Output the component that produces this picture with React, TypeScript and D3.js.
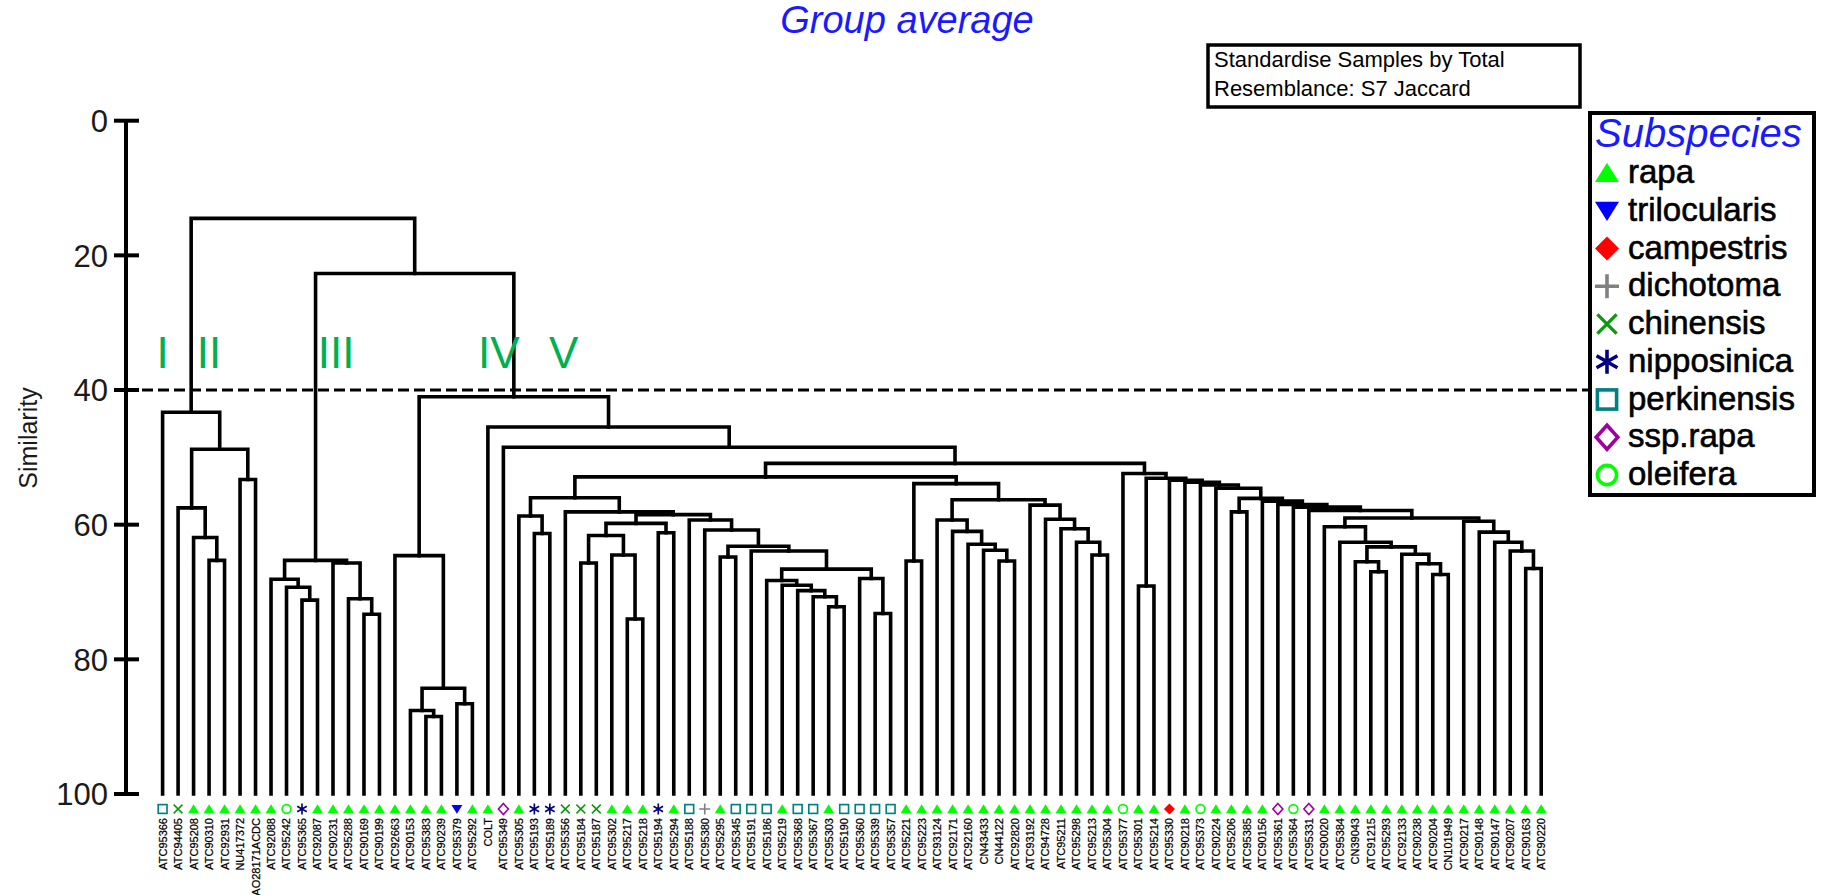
import * as d3 from 'd3'

// leaves in dendrogram order, left to right
const leafLabels = [
  'ATC95366', 'ATC94405', 'ATC95208', 'ATC90310', 'ATC92931', 'NU417372', 'AO28171ACDC', 'ATC92088', 'ATC95242', 'ATC95365',
  'ATC92087', 'ATC90231', 'ATC95288', 'ATC90169', 'ATC90199', 'ATC92663', 'ATC90153', 'ATC95383', 'ATC90239', 'ATC95379',
  'ATC95292', 'COLT', 'ATC95349', 'ATC95305', 'ATC95193', 'ATC95189', 'ATC95356', 'ATC95184', 'ATC95187', 'ATC95302',
  'ATC95217', 'ATC95218', 'ATC95194', 'ATC95294', 'ATC95188', 'ATC95380', 'ATC95295', 'ATC95345', 'ATC95191', 'ATC95186',
  'ATC95219', 'ATC95368', 'ATC95367', 'ATC95303', 'ATC95190', 'ATC95360', 'ATC95339', 'ATC95357', 'ATC95221', 'ATC95223',
  'ATC93124', 'ATC92171', 'ATC92160', 'CN43433', 'CN44122', 'ATC92820', 'ATC93192', 'ATC94728', 'ATC95211', 'ATC95298',
  'ATC95213', 'ATC95304', 'ATC95377', 'ATC95301', 'ATC95214', 'ATC95330', 'ATC90218', 'ATC95373', 'ATC90224', 'ATC95206',
  'ATC95385', 'ATC90156', 'ATC95361', 'ATC95364', 'ATC95331', 'ATC90020', 'ATC95384', 'CN39043', 'ATC91215', 'ATC95293',
  'ATC92133', 'ATC90238', 'ATC90204', 'CN101949', 'ATC90217', 'ATC90148', 'ATC90147', 'ATC90207', 'ATC90163', 'ATC90220',
]

const leafSubspecies = [
  'perkinensis', 'chinensis', 'rapa', 'rapa', 'rapa', 'rapa', 'rapa', 'rapa', 'oleifera', 'nipposinica',
  'rapa', 'rapa', 'rapa', 'rapa', 'rapa', 'rapa', 'rapa', 'rapa', 'rapa', 'trilocularis',
  'rapa', 'rapa', 'ssp.rapa', 'rapa', 'nipposinica', 'nipposinica', 'chinensis', 'chinensis', 'chinensis', 'rapa',
  'rapa', 'rapa', 'nipposinica', 'rapa', 'perkinensis', 'dichotoma', 'rapa', 'perkinensis', 'perkinensis', 'perkinensis',
  'rapa', 'perkinensis', 'perkinensis', 'rapa', 'perkinensis', 'perkinensis', 'perkinensis', 'perkinensis', 'rapa', 'rapa',
  'rapa', 'rapa', 'rapa', 'rapa', 'rapa', 'rapa', 'rapa', 'rapa', 'rapa', 'rapa',
  'rapa', 'rapa', 'oleifera', 'rapa', 'rapa', 'campestris', 'rapa', 'oleifera', 'rapa', 'rapa',
  'rapa', 'rapa', 'ssp.rapa', 'oleifera', 'ssp.rapa', 'rapa', 'rapa', 'rapa', 'rapa', 'rapa',
  'rapa', 'rapa', 'rapa', 'rapa', 'rapa', 'rapa', 'rapa', 'rapa', 'rapa', 'rapa',
]

const subspeciesNames = ['rapa', 'trilocularis', 'campestris', 'dichotoma', 'chinensis', 'nipposinica', 'perkinensis', 'ssp.rapa', 'oleifera']

const similarityTicks = [0, 20, 40, 60, 80, 100]
const cutSimilarity = 40
const clusterNames = ['I', 'II', 'III', 'IV', 'V']
const infoLines = ['Standardise Samples by Total', 'Resemblance: S7 Jaccard']

// merges: [similarity, left, right]; numbers are leaf indices
type Merge = number | [number, Merge, Merge]

const clusterI_II: Merge = [43.3, 0, [48.8, [57.5, 1, [61.9, 2, [65.3, 3, 4]]], [53.3, 5, 6]]]
const clusterIII: Merge = [65.3, [68.1, 7, [69.3, 8, [71.2, 9, 10]]], [65.7, 11, [71.0, 12, [73.3, 13, 14]]]]
const clusterIV: Merge = [64.6, 15, [84.3, [87.6, 16, [88.5, 17, 18]], [86.6, 19, 20]]]

const groupG: Merge = [59.8, [61.6, [65.7, 27, 28], [64.5, 29, [74.0, 30, 31]]], [61.2, 32, 33]]
const groupH: Merge = [59.3, 34, [60.8, 35, [63.2, [64.8, 36, 37],
  [63.9, 38, [66.6, [68.3, 39, [69.0, 40, [69.8, 41, [70.7, 42, [72.2, 43, 44]]]]], [68.0, 45, [73.2, 46, 47]]]]]]]
const groupC: Merge = [56.0, [58.7, 23, [61.3, 24, 25]], [58.1, 26, [58.5, groupG, groupH]]]
const groupJ: Merge = [56.3, [59.3, 50, [61.0, 51, [62.9, 52, [63.8, 53, [65.4, 54, 55]]]]],
  [57.1, 56, [59.2, 57, [60.6, 58, [62.6, 59, [64.5, 60, 61]]]]]]
const groupD: Merge = [53.9, [65.4, 48, 49], groupJ]
const groupK: Merge = [60.3, 75, [62.6, 76, [63.3, [65.5, 77, [67.0, 78, 79]], [64.4, 80, [65.8, 81, [67.4, 82, 83]]]]]]
const groupL: Merge = [59.5, 84, [61.1, 85, [62.6, 86, [63.9, 87, [66.5, 88, 89]]]]]
const groupB: Merge = [52.4, 62, [53.1, [69.1, 63, 64], [53.4, 65, [53.7, 66, [54.1, 67, [54.6, 68,
  [56.1, [58.1, 69, 70], [56.5, 71, [57.0, 72, [57.4, 73, [57.9, 74, [59.0, groupK, groupL]]]]]]]]]]]]
const clusterV: Merge = [45.5, 21, [48.5, 22, [50.9, [52.9, groupC, groupD], groupB]]]

const mergeTree: Merge = [14.5, clusterI_II, [22.7, clusterIII, [41.0, clusterIV, clusterV]]]

const W = 1821
const H = 895
const font = 'Liberation Sans, Arial, sans-serif'

const symbolStyle: Record<string, { color: string }> = {
  rapa: { color: '#00ff00' },
  trilocularis: { color: '#0000ff' },
  campestris: { color: '#ff0000' },
  dichotoma: { color: '#808080' },
  chinensis: { color: '#0a9a0a' },
  nipposinica: { color: '#000080' },
  perkinensis: { color: '#008080' },
  'ssp.rapa': { color: '#a000a0' },
  oleifera: { color: '#00ff00' },
}

let Marker = ({ kind, cx, cy, s }: { kind: string, cx: number, cy: number, s: number }) => {
  let c = symbolStyle[kind].color
  let h = s / 2
  let sw = Math.max(1.4, s * 0.15)
  let t = `translate(${cx},${cy})`
  if (kind === 'rapa') return <path transform={t} d={`M0,${-h * 0.85}L${h},${h * 0.75}L${-h},${h * 0.75}Z`} fill={c} />
  if (kind === 'trilocularis') return <path transform={t} d={`M0,${h * 0.85}L${h},${-h * 0.75}L${-h},${-h * 0.75}Z`} fill={c} />
  if (kind === 'campestris') return <path transform={t} d={`M0,${-h}L${h},0L0,${h}L${-h},0Z`} fill={c} />
  if (kind === 'dichotoma') return <path transform={t} d={`M${-h},0H${h}M0,${-h}V${h}`} stroke={c} strokeWidth={sw} />
  if (kind === 'chinensis') return <path transform={t} d={`M${-h * 0.8},${-h * 0.8}L${h * 0.8},${h * 0.8}M${h * 0.8},${-h * 0.8}L${-h * 0.8},${h * 0.8}`} stroke={c} strokeWidth={sw * 0.9} />
  if (kind === 'nipposinica') {
    let a = h * 0.87
    return <path transform={t} d={`M0,${-h}V${h}M${-a},${-h / 2}L${a},${h / 2}M${a},${-h / 2}L${-a},${h / 2}`} stroke={c} strokeWidth={sw} />
  }
  if (kind === 'perkinensis') return <rect transform={t} x={-h * 0.8} y={-h * 0.8} width={h * 1.6} height={h * 1.6} fill='none' stroke={c} strokeWidth={sw} />
  if (kind === 'ssp.rapa') return <path transform={t} d={`M0,${-h}L${h * 0.9},0L0,${h}L${-h * 0.9},0Z`} fill='none' stroke={c} strokeWidth={sw} />
  return <circle cx={cx} cy={cy} r={h * 0.8} fill='none' stroke={c} strokeWidth={sw} />
}

let App = () => {
  let xScale = d3.scaleLinear().domain([0, leafLabels.length - 1]).range([162.6, 1541.2])
  let yScale = d3.scaleLinear().domain([0, 100]).range([120.7, 794])

  let root = d3.hierarchy<Merge>(mergeTree, d => (Array.isArray(d) ? [d[1], d[2]] : undefined))
  let pos = new Map<d3.HierarchyNode<Merge>, [number, number]>()
  root.eachAfter(n => {
    if (!n.children) {
      pos.set(n, [xScale(n.data as number), yScale(100)])
    } else {
      let mx = d3.mean(n.children, c => pos.get(c)![0])!
      pos.set(n, [mx, yScale((n.data as [number, Merge, Merge])[0])])
    }
  })

  let links = root.descendants().filter(n => n.children).map(n => {
    let [a, b] = n.children!
    let [ax, ay] = pos.get(a)!
    let [bx, by] = pos.get(b)!
    let ny = pos.get(n)![1]
    return `M${ax},${ay}V${ny}H${bx}V${by}`
  })

  let axisX = 126
  // roman cluster labels, anchored over leaf positions
  let clusterAnchor = [0, 3, 11.2, 21.7, 25.9]
  let legendTop = 113
  let legendRow = 37.75

  return (
    <svg width={W} height={H} style={{ position: 'absolute', left: 0, top: 0, display: 'block', background: '#fff' }}>
      <text x={907} y={33} textAnchor='middle' fontFamily={font} fontStyle='italic' fontSize={38} fill='#1a1aff'>Group average</text>

      {/* info box */}
      <rect x={1208} y={45} width={372} height={62} fill='none' stroke='#000' strokeWidth={3.5} />
      {infoLines.map((l, i) => (
        <text key={l} x={1214} y={67 + i * 29} fontFamily={font} fontSize={22} fill='#000'>{l}</text>
      ))}

      {/* y axis */}
      <line x1={axisX} x2={axisX} y1={yScale(0)} y2={yScale(100)} stroke='#000' strokeWidth={4} />
      {similarityTicks.map(t => (
        <g key={t}>
          <line x1={axisX - 12} x2={axisX + 13} y1={yScale(t)} y2={yScale(t)} stroke='#000' strokeWidth={4} />
          <text x={axisX - 18} y={yScale(t)} dy='0.36em' textAnchor='end' fontFamily={font} fontSize={31} fill='#1a1a1a'>{t}</text>
        </g>
      ))}
      <text transform={`translate(37,438) rotate(-90)`} textAnchor='middle' fontFamily={font} fontSize={25} fill='#1a1a1a'>Similarity</text>

      {/* cut level */}
      <line x1={axisX} x2={1590} y1={yScale(cutSimilarity)} y2={yScale(cutSimilarity)} stroke='#000' strokeWidth={3.2} strokeDasharray='11 5' />

      {/* tree */}
      <g fill='none' stroke='#000' strokeWidth={3.6} strokeLinecap='square' strokeLinejoin='miter'>
        {links.map((d, i) => <path key={i} d={d} />)}
      </g>

      {clusterNames.map((c, i) => (
        <text key={c} x={xScale(clusterAnchor[i])} y={368} textAnchor='middle' fontFamily={font} fontSize={44} fill='#00b050'>{c}</text>
      ))}

      {/* leaf markers and labels */}
      {leafLabels.map((l, i) => (
        <g key={l + i}>
          <Marker kind={leafSubspecies[i]} cx={xScale(i)} cy={809} s={11} />
          <text transform={`translate(${xScale(i)},818) rotate(-90)`} dy='0.36em' textAnchor='end' fontFamily={font} fontSize={11} fill='#000' stroke='#000' strokeWidth={0.25}>{l}</text>
        </g>
      ))}

      {/* legend */}
      <rect x={1590} y={legendTop} width={224} height={382} fill='#fff' stroke='#000' strokeWidth={4} />
      <text x={1595} y={147} fontFamily={font} fontStyle='italic' fontSize={40} fill='#1a1aff'>Subspecies</text>
      {subspeciesNames.map((s, i) => {
        let cy = 173 + i * legendRow
        return (
          <g key={s}>
            <Marker kind={s} cx={1607} cy={cy} s={24} />
            <text x={1628} y={cy + 10} fontFamily={font} fontSize={33} fill='#000' stroke='#000' strokeWidth={0.6}>{s}</text>
          </g>
        )
      })}
    </svg>
  )
}

export default App
